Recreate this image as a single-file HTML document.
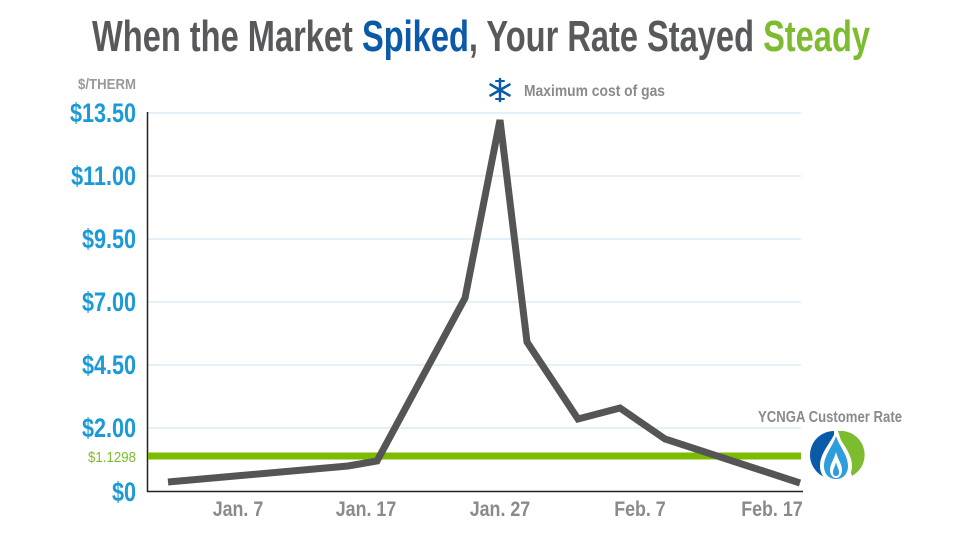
<!DOCTYPE html>
<html><head><meta charset="utf-8"><style>
body{margin:0;width:960px;height:540px;background:#fff;overflow:hidden}
svg text{font-family:"Liberation Sans",sans-serif;font-weight:bold}
</style></head><body>
<svg width="960" height="540" viewBox="0 0 960 540">
<text x="92" y="51" font-size="44" fill="#58595b" textLength="778" lengthAdjust="spacingAndGlyphs">When the Market <tspan fill="#0a5aa8">Spiked</tspan>, Your Rate Stayed <tspan fill="#7dbb2f">Steady</tspan></text>
<g stroke="#dcebf5" stroke-width="1.5">
<line x1="148" y1="113" x2="801" y2="113"/><line x1="148" y1="176" x2="801" y2="176"/><line x1="148" y1="239" x2="801" y2="239"/><line x1="148" y1="302" x2="801" y2="302"/><line x1="148" y1="365" x2="801" y2="365"/><line x1="148" y1="428" x2="801" y2="428"/>
</g>
<line x1="147.5" y1="112" x2="147.5" y2="492" stroke="#222" stroke-width="1.5"/>
<line x1="147" y1="491.5" x2="803" y2="491.5" stroke="#222" stroke-width="1.5"/>
<text x="78" y="89" font-size="15" fill="#999" textLength="58" lengthAdjust="spacingAndGlyphs">$/THERM</text>
<g transform="translate(136,0) scale(0.8,1)" font-size="27" fill="#1a9ad6" text-anchor="end">
<text x="0" y="122">$13.50</text><text x="0" y="185">$11.00</text><text x="0" y="248">$9.50</text><text x="0" y="311">$7.00</text><text x="0" y="374">$4.50</text><text x="0" y="437">$2.00</text><text x="0" y="501">$0</text>
</g>
<text x="88" y="462" font-size="15" fill="#7dbb2f" style="font-weight:normal" textLength="48" lengthAdjust="spacingAndGlyphs">$1.1298</text>
<line x1="148" y1="456" x2="801" y2="456" stroke="#7dbb00" stroke-width="7"/>
<polyline points="168,482 348,466 377,461 465,298 500,120 527,342 578,419 620,408 665,439 800,483" fill="none" stroke="#555" stroke-width="7"/>
<g transform="scale(0.85,1)" font-size="21" fill="#8a8a8a" text-anchor="middle">
<text x="280" y="516">Jan. 7</text><text x="430.6" y="516">Jan. 17</text><text x="588.2" y="516">Jan. 27</text><text x="752.9" y="516">Feb. 7</text><text x="908.2" y="516">Feb. 17</text>
</g>
<text x="758" y="422" font-size="16" fill="#8a8a8a" textLength="144" lengthAdjust="spacingAndGlyphs">YCNGA Customer Rate</text>
<text x="524" y="96" font-size="16" fill="#8a8a8a" textLength="141" lengthAdjust="spacingAndGlyphs">Maximum cost of gas</text>
<g stroke="#0a5aa8" stroke-width="2.5" stroke-linecap="round">
<line x1="500" y1="79" x2="500" y2="101"/><line x1="490.5" y1="84.5" x2="509.5" y2="95.5"/><line x1="490.5" y1="95.5" x2="509.5" y2="84.5"/>
<line x1="496" y1="81" x2="504" y2="81" stroke-width="2"/><line x1="496" y1="99" x2="504" y2="99" stroke-width="2"/>
</g>
<g>
<path d="M834 431 A24 24 0 0 0 834 479 Z" fill="#0a5aa8"/>
<path d="M838 431 A24 24 0 0 1 852 476 Z" fill="#7dbb2f"/>
<path d="M836 430 C840 442 852 452 852 466 C852 476 845 482 836 482 C827 482 820 476 820 466 C820 452 832 442 836 430 Z" fill="#fff"/>
<path d="M836 436 C839 446 848 455 848 466 C848 474 843 479 836 479 C829 479 824 474 824 466 C824 455 833 446 836 436 Z" fill="#2f9ddb"/>
<path d="M836 452 C838 460 842 464 842 470 C842 475 839 478 836 478 C833 478 830 475 830 470 C830 464 834 460 836 452 Z" fill="#fff"/>
<path d="M836 462 C837 467 839 469 839 472 C839 475 838 476 836 476 C834 476 833 475 833 472 C833 469 835 467 836 462 Z" fill="#2f9ddb"/>
</g>
</svg>
</body></html>
